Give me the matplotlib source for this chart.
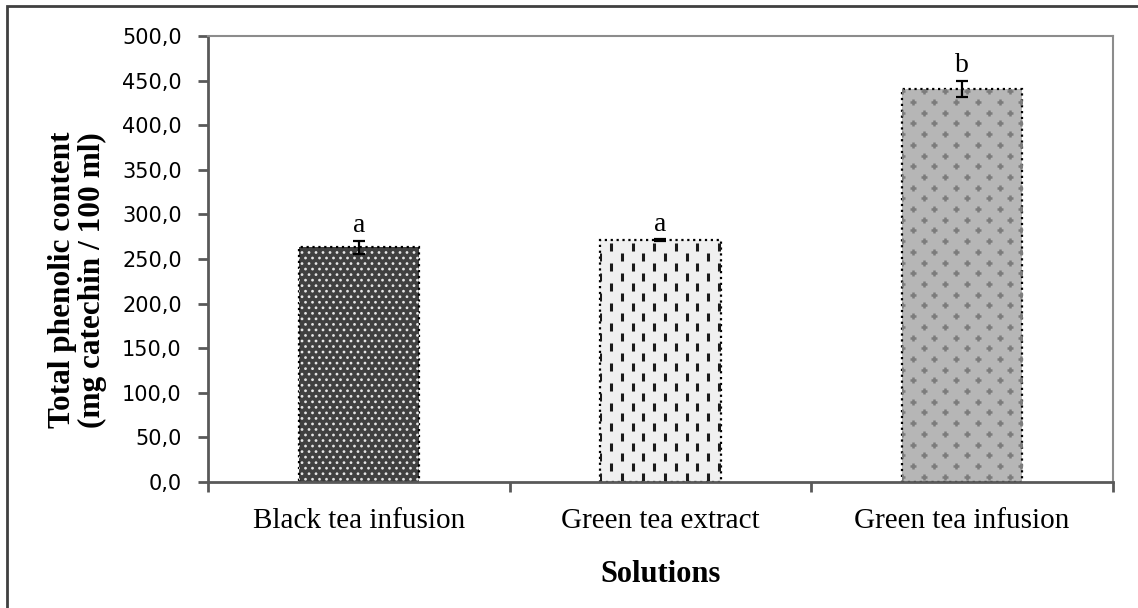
import numpy as np
import matplotlib.pyplot as plt
from matplotlib.patches import Rectangle

# total phenolic content per solution
solutions = ['Black tea infusion', 'Green tea extract', 'Green tea infusion']
phenolic = [263.0, 271.0, 441.0]
errors = [7.0, 1.0, 9.0]
letters = ['a', 'a', 'b']

yticks = np.arange(0, 501, 50)
ytick_labels = [f'{v:.1f}'.replace('.', ',') for v in yticks]

fig = plt.figure(figsize=(11.38, 6.08), dpi=100)
ax = fig.add_axes([0.1828, 0.2072, 0.7952, 0.7336])

x = np.arange(len(solutions))
faces = ['#404040', '#f0f0f0', '#b6b6b6']

bars = ax.bar(x, phenolic, width=0.4, color=faces, edgecolor='black',
              linestyle=':', linewidth=1.6, zorder=2)


# pattern fills, clipped to each bar
def fill_marks(patch, marker, color, dx, dy, size, lw):
    x0, y0 = patch.get_x(), patch.get_y()
    w, h = patch.get_width(), patch.get_height()
    px, py = [], []
    for row, yy in enumerate(np.arange(y0 + dy / 2, y0 + h, dy)):
        off = dx / 2 if row % 2 else 0
        for xx in np.arange(x0 + off, x0 + w + dx, dx):
            px.append(xx)
            py.append(yy)
    sc = ax.scatter(px, py, marker=marker, s=size, c=color, linewidths=lw,
                    edgecolors='none' if marker == 'o' else None, zorder=2.5)
    sc.set_clip_path(patch)


fill_marks(bars[0], 'o', '#e6e6e6', 0.0232, 6.2, 4, 0)
fill_marks(bars[1], '|', '#1a1a1a', 0.0716, 11.2, 36, 2.2)
fill_marks(bars[2], '+', '#7c7c7c', 0.0720, 12.0, 22, 1.8)

ax.errorbar(x, phenolic, yerr=errors, fmt='none', ecolor='black',
            elinewidth=1.6, capsize=4.5, capthick=1.6, zorder=3)

for xi, v, e, t in zip(x, phenolic, errors, letters):
    ax.text(xi, v + e + 3, t, ha='center', va='bottom',
            fontsize=20, family='Liberation Serif')

ax.set_xlim(-0.5, 2.5)
ax.set_ylim(0, 500)
ax.set_yticks(yticks)
ax.set_yticklabels(ytick_labels, family='DejaVu Sans', fontsize=15)
ax.set_xticks(x)
ax.set_xticklabels(solutions, family='Liberation Serif', fontsize=21)
ax.tick_params(axis='x', length=0, pad=18.5)
ax.set_xticks([-0.5, 0.5, 1.5, 2.5], minor=True)
ax.tick_params(axis='x', which='minor', length=7, width=2, color='#595959')
ax.tick_params(axis='y', length=7, width=2, color='#595959', pad=12)

for side in ['left', 'bottom']:
    ax.spines[side].set_color('#595959')
    ax.spines[side].set_linewidth(2)
for side in ['top', 'right']:
    ax.spines[side].set_color('#8c8c8c')
    ax.spines[side].set_linewidth(1.5)

ax.set_xlabel('Solutions', family='Liberation Serif', fontsize=22,
              fontweight='bold', labelpad=19)
ax.set_ylabel('Total phenolic content\n(mg catechin / 100 ml)',
              family='Liberation Serif', fontsize=22.5, fontweight='bold',
              linespacing=1.05)
ax.yaxis.set_label_coords(-0.1116, 0.453)

# outer chart border
fig.patches.append(Rectangle((7 / 1138, -0.05), 1.1, 1.05 - 6 / 608,
                             transform=fig.transFigure, fill=False,
                             edgecolor='#404040', linewidth=2))

fig.savefig('out.png', dpi=100)
